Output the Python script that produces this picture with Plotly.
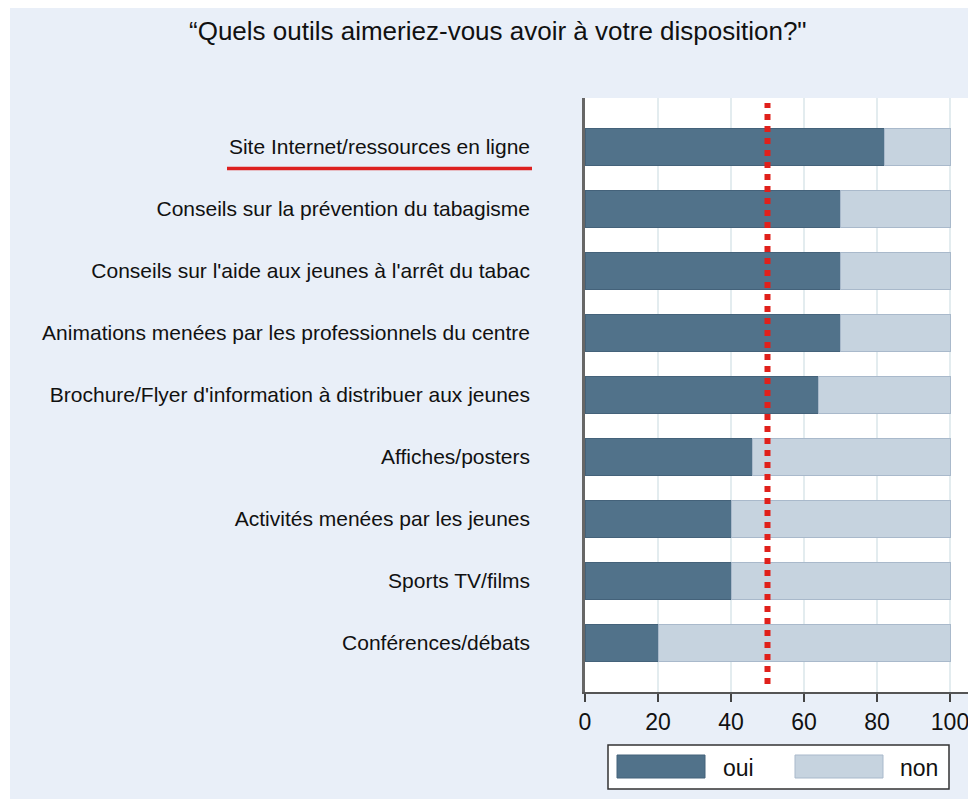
import plotly.graph_objects as go

categories = [
    "Site Internet/ressources en ligne",
    "Conseils sur la prévention du tabagisme",
    "Conseils sur l'aide aux jeunes à l'arrêt du tabac",
    "Animations menées par les professionnels du centre",
    "Brochure/Flyer d'information à distribuer aux jeunes",
    "Affiches/posters",
    "Activités menées par les jeunes",
    "Sports TV/films",
    "Conférences/débats",
]
oui = [82, 70, 70, 70, 64, 46, 40, 40, 20]
non = [100 - v for v in oui]
ref_line = 50
x_ticks = [0, 20, 40, 60, 80, 100]
title_text = "“Quels outils aimeriez-vous avoir à votre disposition?\""

# page body has an 8px margin; design in screen pixels then shift
OFF = 8
W, H = 976 - OFF, 799 - OFF
L, R, T, B = 585 - OFF, 973 - OFF, 98 - OFF, 692 - OFF

def px(x):
    return (x - OFF - L) / (R - L)

def py(y):
    return (B - (y - OFF)) / (B - T)

FONT = "Liberation Sans, Arial, sans-serif"
C_OUI = "#51728a"
C_NON = "#c6d3df"
BG = "#e9eff8"

fig = go.Figure()
fig.add_trace(go.Bar(y=categories, x=oui, orientation="h", name="oui",
                     marker=dict(color=C_OUI, line=dict(color="#44627a", width=1)),
                     width=0.6, showlegend=False))
fig.add_trace(go.Bar(y=categories, x=non, orientation="h", name="non",
                     marker=dict(color=C_NON, line=dict(color="#a9b9cb", width=1)),
                     width=0.6, showlegend=False))

shapes = []
# white outer strip on the left
shapes.append(dict(type="rect", xref="paper", yref="paper", x0=px(OFF), x1=px(10), y0=py(799), y1=py(OFF),
                   fillcolor="white", line=dict(width=0), layer="above"))
# reference line
shapes.append(dict(type="line", xref="x", yref="paper", x0=ref_line, x1=ref_line, y0=py(684), y1=py(103),
                   line=dict(color="#e0201b", width=6, dash="6px,6px"), layer="above"))
# red underline under first label
shapes.append(dict(type="line", xref="paper", yref="paper", x0=px(227), x1=px(532), y0=py(168.5), y1=py(168.5),
                   line=dict(color="#dd2020", width=3.5)))
# legend box
shapes.append(dict(type="rect", xref="paper", yref="paper", x0=px(608), x1=px(949), y0=py(789), y1=py(745),
                   fillcolor="white", line=dict(color="#333333", width=1.5)))
shapes.append(dict(type="rect", xref="paper", yref="paper", x0=px(617), x1=px(705), y0=py(778), y1=py(755),
                   fillcolor=C_OUI, line=dict(color="#44627a", width=1)))
shapes.append(dict(type="rect", xref="paper", yref="paper", x0=px(795), x1=px(883), y0=py(778), y1=py(755),
                   fillcolor=C_NON, line=dict(color="#a9b9cb", width=1)))

annotations = [
    dict(text="oui", xref="paper", yref="paper", x=px(721), y=py(768), xanchor="left", yanchor="middle",
         showarrow=False, font=dict(family=FONT, size=23, color="#111111")),
    dict(text="non", xref="paper", yref="paper", x=px(898), y=py(768), xanchor="left", yanchor="middle",
         showarrow=False, font=dict(family=FONT, size=23, color="#111111")),
    dict(text=title_text, xref="paper", yref="paper", x=px(498), y=py(31), xanchor="center", yanchor="middle",
         showarrow=False, font=dict(family=FONT, size=26, color="#111111")),
]

fig.update_layout(
    width=W, height=H,
    margin=dict(l=L, r=W - R, t=T, b=H - B, pad=0),
    barmode="stack",
    bargap=0.4,
    paper_bgcolor=BG,
    plot_bgcolor="white",
    font=dict(family=FONT, color="#111111"),
    shapes=shapes,
    annotations=annotations,
    xaxis=dict(range=[0, 106.3], tickvals=x_ticks, ticks="outside", ticklen=8, tickwidth=1.5,
               tickcolor="#444444", showline=True, linecolor="#555555", linewidth=2,
               showgrid=True, gridcolor="#e3ecef", gridwidth=1.5, zeroline=False,
               tickfont=dict(size=23, family=FONT, color="#111111")),
    yaxis=dict(categoryorder="array", categoryarray=categories, range=[8.79, -0.79],
               showline=True, linecolor="#666666", linewidth=2.5, ticks="", showgrid=False,
               ticklabelstandoff=48, tickfont=dict(size=21, family=FONT, color="#111111")),
)

fig.write_html("out.html")
